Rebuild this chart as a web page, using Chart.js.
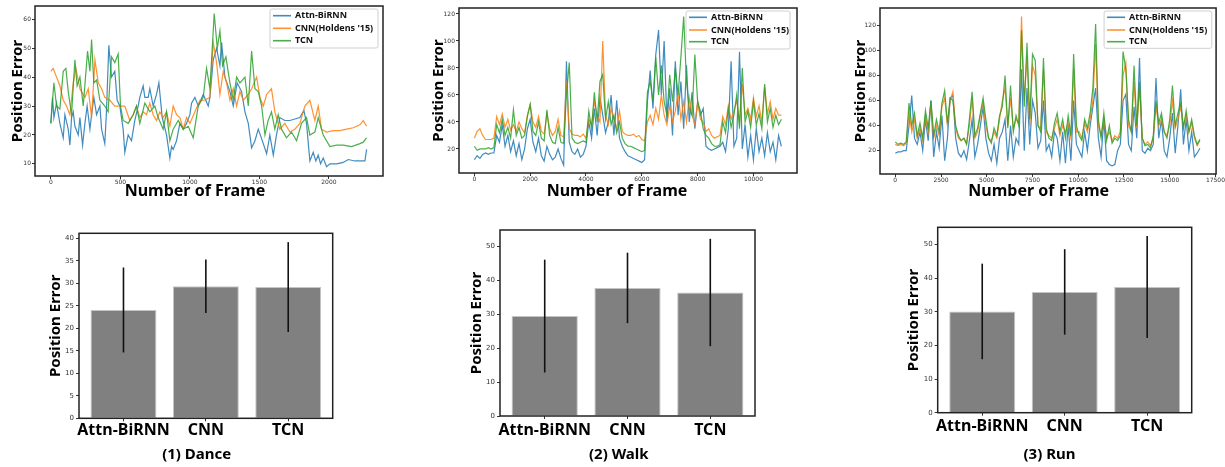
<!DOCTYPE html>
<html>
<head>
<meta charset="utf-8">
<script src="https://cdn.jsdelivr.net/npm/chart.js@4.4.1/dist/chart.umd.min.js"></script>
<style>
html,body{margin:0;padding:0;background:#fff;width:1225px;height:467px;overflow:hidden;position:relative}
canvas{position:absolute}
</style>
</head>
<body>
<canvas id="c1"></canvas>
<canvas id="c2"></canvas>
<canvas id="c3"></canvas>
<canvas id="c4"></canvas>
<canvas id="c5"></canvas>
<canvas id="c6"></canvas>
<script>
// ---------------- DATA ----------------
const seriesNames = ['Attn-BiRNN', "CNN(Holdens '15)", 'TCN'];
const barCategories = ['Attn-BiRNN', 'CNN', 'TCN'];

// (1) Dance - per-frame position error (sampled)
const danceAttnFrames = [0,12,22,41,65,89,101,125,137,149,161,173,197,209,228,245,261,281,293,309,329,353,365,388,400,417,436,460,477,496,520,532,556,580,604,628,640,664,676,700,712,736,760,777,801,832,856,868,880,904,928,952,976,1000,1012,1036,1060,1096,1132,1144,1168,1192,1216,1228,1252,1288,1312,1340,1372,1396,1420,1444,1468,1492,1528,1552,1575,1600,1623,1647,1683,1719,1755,1791,1820,1839,1863,1887,1906,1923,1940,1959,1983,2007,2055,2103,2139,2187,2223,2259,2271];
const danceAttn = [24,33,26,31,24,19,27,22,16.5,26,28,23,20,26,16.5,24,30,22,27,33,27,30,22,17,28,51,40,42,32,30,22,14,20,18,25,30,33,37,33,33,36,30,34,38,26,20,12,16,15,18,24,22,24,27,31,33,30,34,30,33,46,50,44,52,40,35,30,38,35,28,24,15.5,18,22,17,13.5,20,13,20,26,25,25,25.5,26,28.5,24,11,14,11,13,10,12,9,10,10,10.5,11.5,11,11,11,15];
const danceCnnFrames = [0,17,41,65,89,113,137,161,180,209,245,269,293,317,341,365,388,424,460,496,532,568,592,616,640,664,688,712,736,760,784,808,832,856,880,904,928,952,976,1000,1036,1072,1108,1144,1168,1192,1216,1240,1264,1288,1312,1336,1360,1384,1420,1444,1480,1504,1528,1552,1587,1611,1647,1683,1719,1755,1791,1827,1863,1899,1923,1947,1983,2031,2079,2127,2175,2223,2247,2271];
const danceCnn = [42,43,40,37,32,30,27,38,43,36,33,36,26,46,38,36,33,32,30,30,30,25,27,30,26,28,27,31,27,25,28,26,28,23,30,27,26,22,26,24,28,32,32,33,52,45,34,42,38,32,36,30,35,32,34,36,40,33,30,34,36,28,22,24,21,22,24,30,32,25,30,22,21,21.5,21.5,22,22.5,23.5,25,23];
const danceTcnFrames = [0,12,22,41,65,89,108,125,149,173,189,209,233,264,281,293,309,329,353,388,412,436,460,484,501,520,556,592,616,640,676,712,748,772,808,832,856,880,916,952,988,1024,1060,1096,1120,1144,1175,1197,1216,1235,1259,1288,1312,1336,1360,1396,1420,1444,1468,1492,1516,1540,1563,1587,1611,1635,1659,1695,1731,1767,1803,1839,1863,1899,1923,1959,2007,2055,2103,2163,2223,2247,2271];
const danceTcn = [24,32,38,30,29,42,43,35,27,46,37,40,30,49,42,53,38,39,32,30,28,47,45,48,30,25,24,27,30,24,31,28,30,26,22,28,18,22,25,22,23,19,30,33,43,36,62,50,56,44,47,38,32,40,38,40,30,49,36,35,30,20,25,28,22,27,22,19,21,18,24,26,20,21,26,20,16,16.5,16.5,16,17,17.5,19];

// (2) Walk - sampled every 100 frames
const walkFrameStep = 100;
const walkAttn = [12,15,13,16,17,16,17,17, 30,25,38,22,30,18,26,15,24,12,20,35, 42,25,18,28,15,11,22,16,12,14, 20,13,8,85,25,18,16,20,14,16, 22,40,28,50,30,58,45,32,40,60, 30,56,28,22,18,15,14,13,12,11, 10,12,55,78,50,90,108,60,100,40, 65,30,85,45,70,35,82,40,62,35, 55,45,50,22,20,19,20,21,22,25, 18,35,85,22,28,92,20,38,14,30, 12,35,18,28,15,32,18,25,12,30,22];
const walkCnn = [28,33,35,30,27,27,27,28, 44,38,46,36,42,34,38,33,40,35,32,45, 53,40,36,44,33,31,46,35,30,33, 42,30,29,70,35,31,30,30,29,31, 28,42,38,55,45,40,100,45,38,50, 42,35,48,33,31,30,30,31,29,30, 27,26,40,45,38,50,42,60,45,38, 52,40,48,62,42,55,40,58,45,38, 55,42,40,33,35,30,28,29,30,44, 38,52,42,48,56,40,68,45,50,42, 58,44,52,40,66,46,55,42,50,45,45];
const walkTcn = [22,19,20,20,20,21,20,21, 38,32,42,30,36,28,49,30,36,28,30,44, 53,33,30,40,28,26,49,30,25,24, 36,25,24,60,84,28,25,24,25,26, 25,48,35,62,40,70,75,42,55,38, 45,32,40,28,24,22,22,21,20,19, 18,19,62,70,55,88,60,82,55,45, 75,55,80,60,88,118,70,50,45,90, 55,48,35,30,28,24,22,22,23,40, 32,50,36,45,60,35,80,40,48,36, 55,38,46,35,68,40,50,36,45,38,42];

// (3) Run - sampled every 150 frames
const runFrameStep = 150;
const runAttn = [18,19,19,20,20,40,64,30,25,35, 20,45,28,60,15,35,22,48,12,30, 62,64,30,18,15,20,13,28,45,15, 25,40,55,30,18,12,25,10,30,35, 45,12,40,15,30,25,85,20,70,25, 60,50,22,28,60,20,25,15,35,30, 12,35,10,40,12,60,25,20,15,35, 20,40,55,70,30,15,45,12,9,8, 9,20,25,60,65,25,20,55,30,94, 20,18,22,20,25,78,30,45,20,15, 30,50,18,40,69,25,45,20,35,15,18,22];
const runCnn = [25,24,25,24,26,50,35,45,30,38, 28,48,35,58,30,40,32,55,62,40, 60,67,38,30,28,30,26,40,62,30, 35,48,58,40,30,28,35,30,45,60, 70,40,62,38,45,42,127,60,95,40, 88,80,40,38,85,35,32,30,38,45, 32,40,35,42,30,85,35,35,30,42, 35,45,60,105,40,32,45,30,35,28, 32,30,35,80,90,40,35,75,38,70, 30,25,27,24,30,55,40,45,35,32, 40,60,38,45,55,40,48,35,42,30,24,28];
const runTcn = [27,25,26,25,27,58,40,50,32,42, 30,52,38,60,32,45,35,58,68,42, 62,60,40,32,28,30,25,45,67,32, 38,50,62,45,30,26,38,32,48,55, 80,38,72,35,48,40,116,55,106,45, 97,92,40,35,94,38,30,28,42,50, 35,45,30,48,32,97,40,32,28,45, 38,50,70,121,45,30,50,28,40,26, 30,28,32,99,85,45,35,88,40,75, 30,24,25,22,32,60,42,50,35,30, 45,72,40,50,58,38,52,35,45,32,25,29];

// Bar charts: mean and standard deviation
const danceMean = [24.1, 29.4, 29.2];
const danceStd  = [9.45, 5.95, 10.0];
const walkMean  = [29.5, 37.8, 36.45];
const walkStd   = [16.65, 10.4, 15.85];
const runMean   = [30.1, 35.9, 37.35];
const runStd    = [14.2, 12.7, 15.15];

// Tick label arrays
const danceXTicks = [0, 500, 1000, 1500, 2000];
const walkXTicks  = [0, 2000, 4000, 6000, 8000, 10000];
const runXTicks   = [0, 2500, 5000, 7500, 10000, 12500, 15000, 17500];

// ---------------- STYLE / PLUGINS ----------------
const COLORS = ['rgba(31,119,180,0.85)', 'rgba(255,127,14,0.85)', 'rgba(44,160,44,0.85)'];
Chart.defaults.font.family = 'DejaVu Sans';

const errorBars = {
  id: 'errorBars',
  afterDatasetsDraw(chart) {
    const ctx = chart.ctx;
    chart.data.datasets.forEach((ds, di) => {
      if (!ds.errors) return;
      const meta = chart.getDatasetMeta(di);
      const ys = chart.scales.y;
      ctx.save();
      ctx.strokeStyle = '#111';
      ctx.lineWidth = 1.6;
      meta.data.forEach((el, i) => {
        const m = ds.data[i].y, e = ds.errors[i];
        ctx.beginPath();
        ctx.moveTo(el.x, ys.getPixelForValue(m - e));
        ctx.lineTo(el.x, ys.getPixelForValue(m + e));
        ctx.stroke();
      });
      ctx.restore();
    });
  }
};
const frameBox = {
  id: 'frameBox',
  afterDatasetsDraw(chart) {
    const {ctx, chartArea: a} = chart;
    ctx.save();
    ctx.strokeStyle = '#222';
    ctx.lineWidth = 1.5;
    ctx.strokeRect(a.left, a.top, a.right - a.left, a.bottom - a.top);
    ctx.restore();
  }
};
const innerLegend = {
  id: 'innerLegend',
  afterDraw(chart, args, o) {
    if (!o || !o.show) return;
    const {ctx, chartArea: a} = chart;
    const x = a.right - o.right - o.width, y = a.top + o.top;
    ctx.save();
    ctx.beginPath();
    if (ctx.roundRect) ctx.roundRect(x, y, o.width, o.height, 2); else ctx.rect(x, y, o.width, o.height);
    ctx.fillStyle = 'rgba(255,255,255,0.85)';
    ctx.fill();
    ctx.strokeStyle = '#cfcfcf';
    ctx.lineWidth = 1;
    ctx.stroke();
    chart.data.datasets.forEach((ds, i) => {
      const ry = y + o.rows[i];
      ctx.strokeStyle = ds.borderColor;
      ctx.lineWidth = 1.6;
      ctx.beginPath();
      ctx.moveTo(x + 3, ry);
      ctx.lineTo(x + 21, ry);
      ctx.stroke();
      ctx.fillStyle = '#111';
      ctx.font = 'bold 9px "Noto Sans"';
      ctx.textBaseline = 'middle';
      ctx.textAlign = 'left';
      ctx.fillText(ds.label, x + 25, ry);
    });
    ctx.restore();
  }
};
const captions = {
  id: 'captions',
  afterDraw(chart, args, o) {
    if (!o || !o.items) return;
    const ctx = chart.ctx;
    ctx.save();
    o.items.forEach(it => {
      ctx.font = it.font;
      ctx.fillStyle = '#000';
      ctx.textAlign = 'center';
      ctx.textBaseline = 'middle';
      ctx.fillText(it.text, it.x, it.y);
    });
    ctx.restore();
  }
};
Chart.register(errorBars, frameBox, innerLegend, captions);

function placeCanvas(id, f) {
  const c = document.getElementById(id);
  c.style.left = f.x0 + 'px';
  c.style.top = f.y0 + 'px';
  c.width = Math.round(f.x1 - f.x0);
  c.height = Math.round(f.y1 - f.y0);
  c.style.width = c.width + 'px';
  c.style.height = c.height + 'px';
  return c;
}

const yTitle = {display: true, text: 'Position Error', color: '#000', padding: {top: 0, bottom: 0},
  font: {size: 15, weight: 'bold', family: 'Noto Sans'}};

function lineChart(id, f, p, frames, values, xr, xticks, yr, ystep, legendOpt, capX) {
  const c = placeCanvas(id, f);
  const datasets = values.map((vals, k) => ({
    label: seriesNames[k],
    data: vals.map((v, i) => ({x: frames[k][i], y: v})),
    borderColor: COLORS[k],
    borderWidth: 1.2,
    pointRadius: 0,
    tension: 0,
    fill: false,
    order: 2 - k
  }));
  return new Chart(c, {
    type: 'line',
    data: {datasets},
    options: {
      responsive: false, animation: false, devicePixelRatio: 1,
      layout: {autoPadding: false, padding: {left: 0, top: p.t - f.y0, right: f.x1 - p.r, bottom: 0}},
      plugins: {
        legend: {display: false}, tooltip: {enabled: false},
        innerLegend: legendOpt,
        captions: {items: [{text: 'Number of Frame', x: capX - f.x0, y: 191.5 - f.y0, font: 'bold 16px "Noto Sans"'}]}
      },
      scales: {
        x: {
          type: 'linear', min: xr[0], max: xr[1], offset: false,
          afterFit(s) { s.height = f.y1 - p.b; },
          afterBuildTicks(s) { s.ticks = xticks.map(v => ({value: v})); },
          ticks: {autoSkip: false, maxRotation: 0, padding: 0, color: '#333', font: {size: 6}, callback: v => String(v)},
          grid: {drawOnChartArea: false, drawTicks: true, tickLength: 3, color: '#333'},
          border: {display: false}
        },
        y: {
          type: 'linear', min: yr[0], max: yr[1],
          afterFit(s) { s.width = p.l - f.x0; },
          ticks: {stepSize: ystep, includeBounds: false, padding: 1, color: '#333', font: {size: 6}, callback: v => String(v)},
          grid: {drawOnChartArea: false, drawTicks: true, tickLength: 3, color: '#333'},
          border: {display: false},
          title: yTitle
        }
      }
    }
  });
}

function barChart(id, f, p, means, stds, ymax, ystep, caption, capX, tickPad) {
  const c = placeCanvas(id, f);
  return new Chart(c, {
    type: 'bar',
    data: {datasets: [{
      label: 'mean',
      data: means.map((v, i) => ({x: i, y: v})),
      errors: stds,
      backgroundColor: '#808080',
      borderColor: '#c4c4c4',
      borderWidth: 1,
      barPercentage: 0.8,
      categoryPercentage: 1
    }]},
    options: {
      responsive: false, animation: false, devicePixelRatio: 1,
      layout: {autoPadding: false, padding: {left: 0, top: p.t - f.y0, right: f.x1 - p.r, bottom: 0}},
      plugins: {
        legend: {display: false}, tooltip: {enabled: false},
        captions: {items: [{text: caption, x: capX - f.x0, y: 454.5 - f.y0, font: 'bold 15px "Noto Sans"'}]}
      },
      scales: {
        x: {
          type: 'linear', min: -0.54, max: 2.54, offset: false,
          afterFit(s) { s.height = f.y1 - p.b; },
          afterBuildTicks(s) { s.ticks = barCategories.map((_, i) => ({value: i})); },
          ticks: {autoSkip: false, maxRotation: 0, padding: tickPad, color: '#000',
            font: {size: 16, weight: 'bold', family: 'Noto Sans'}, callback: v => barCategories[v]},
          grid: {drawOnChartArea: false, drawTicks: true, tickLength: 3, color: '#333', offset: false},
          border: {display: false}
        },
        y: {
          type: 'linear', min: 0, max: ymax,
          afterFit(s) { s.width = p.l - f.x0; },
          ticks: {stepSize: ystep, includeBounds: false, padding: 2, color: '#333', font: {size: 7}, callback: v => String(v)},
          grid: {drawOnChartArea: false, drawTicks: true, tickLength: 3, color: '#333'},
          border: {display: false},
          title: yTitle
        }
      }
    }
  });
}

// ---------------- CHARTS ----------------
const walkFrames = walkAttn.map((_, i) => i * walkFrameStep);
const runFrames = runAttn.map((_, i) => i * runFrameStep);

lineChart('c1', {x0: 9, y0: 0, x1: 405, y1: 205}, {l: 35, t: 6, r: 383, b: 176},
  [danceAttnFrames, danceCnnFrames, danceTcnFrames], [danceAttn, danceCnn, danceTcn],
  [-114, 2389], danceXTicks, [5.8, 64.6], 10,
  {show: true, right: 5, top: 3, width: 108, height: 39, rows: [6.7, 19.3, 31.7]}, 195);

lineChart('c2', {x0: 430, y0: 0, x1: 815, y1: 205}, {l: 459, t: 8, r: 797, b: 173},
  [walkFrames, walkFrames, walkFrames], [walkAttn, walkCnn, walkTcn],
  [-550, 11560], walkXTicks, [2.2, 124.4], 20,
  {show: true, right: 7, top: 3, width: 104, height: 38, rows: [6.3, 19, 30.7]}, 617);

lineChart('c3', {x0: 852, y0: 0, x1: 1225, y1: 205}, {l: 880, t: 8, r: 1221, b: 174},
  [runFrames, runFrames, runFrames], [runAttn, runCnn, runTcn],
  [-835, 17535], runXTicks, [1.4, 133.8], 20,
  {show: true, right: 4.3, top: 3, width: 107.7, height: 37.3, rows: [6.3, 19, 30.7]}, 1038.7);

barChart('c4', {x0: 47, y0: 215, x1: 410, y1: 467}, {l: 79, t: 233.3, r: 332.7, b: 418.3},
  danceMean, danceStd, 41.16, 5, '(1) Dance', 196.7, 0);
barChart('c5', {x0: 468, y0: 215, x1: 840, y1: 467}, {l: 500, t: 230, r: 755, b: 416},
  walkMean, walkStd, 54.9, 10, '(2) Walk', 618.8, 2);
barChart('c6', {x0: 905, y0: 215, x1: 1225, y1: 467}, {l: 937.7, t: 227.3, r: 1191.7, b: 412.7},
  runMean, runStd, 55.1, 10, '(3) Run', 1049.5, 1);
</script>
</body>
</html>
